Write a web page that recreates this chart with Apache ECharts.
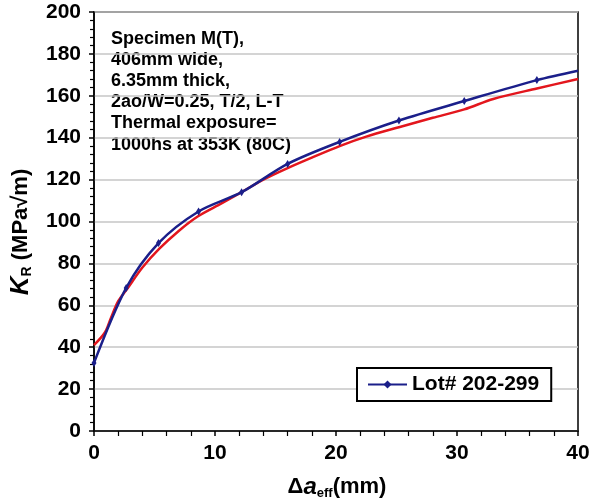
<!DOCTYPE html>
<html>
<head>
<meta charset="utf-8">
<script src="https://cdn.jsdelivr.net/npm/echarts@6/dist/echarts.min.js"></script>
<style>
  html, body { margin: 0; padding: 0; background: #fff; }
  #chart { width: 593px; height: 504px; }
</style>
</head>
<body>
<div id="chart"></div>
<script>
// crack extension (mm) / K_R (MPa√m)
const lotName = 'Lot# 202-299'
const lotX = [0, 2.66, 5.33, 8.64, 12.2, 16.0, 20.3, 25.2, 30.6, 36.6, 40]
const lotY = [32.5, 68.3, 89.7, 104.8, 114.0, 127.5, 138.0, 148.2, 157.5, 167.5, 172.0]

const refX = [0, 0.9, 1.4, 2.0, 2.7, 4.0, 5.4, 7.0, 8.6, 10.5, 12.2, 14.0, 16.0, 18.0, 20.3, 22.5, 25.2, 28.0, 30.6, 33.0, 36.6, 40]
const refY = [41, 47, 54, 62, 67.5, 78, 87, 95.5, 102.5, 108.5, 114, 120, 125.5, 130.5, 136, 140.5, 145, 149.5, 153.5, 158.5, 163.5, 168]

const xTicks = [0, 10, 20, 30, 40]
const yTicks = [0, 20, 40, 60, 80, 100, 120, 140, 160, 180, 200]

const noteLines = [
  'Specimen M(T),',
  '406mm wide,',
  '6.35mm thick,',
  '2ao/W=0.25, T/2, L-T',
  'Thermal exposure=',
  '1000hs at 353K (80C)'
]

const FONT = '"Liberation Sans", Arial, sans-serif'
const BLUE = '#1b1f8a'
const RED = '#e3161d'

const chart = echarts.init(document.getElementById('chart'))

const lotData = lotX.map((x, i) => {
  const last = i === lotX.length - 1
  return last ? { value: [x, lotY[i]], symbol: 'none' } : [x, lotY[i]]
})
const refData = refX.map((x, i) => [x, refY[i]])

chart.setOption({
  animation: false,
  backgroundColor: '#fff',
  textStyle: { fontFamily: FONT },
  grid: {
    left: 94, right: 15, top: 12, bottom: 73,
    show: true,
    borderColor: '#000',
    borderWidth: 1.5,
    backgroundColor: 'transparent'
  },
  legend: {
    data: [lotName],
    left: 357,
    top: 368,
    orient: 'horizontal',
    backgroundColor: '#fff',
    borderColor: '#000',
    borderWidth: 2,
    borderRadius: 0,
    padding: [6, 12, 6, 10],
    itemWidth: 39,
    itemHeight: 10,
    textStyle: { fontFamily: FONT, fontSize: 21, fontWeight: 'bold', color: '#000' }
  },
  xAxis: {
    type: 'value',
    min: xTicks[0],
    max: xTicks[xTicks.length - 1],
    interval: 10,
    axisLine: { show: true, onZero: false, lineStyle: { color: '#000', width: 1.5 } },
    axisTick: { show: true, inside: false, length: 5, lineStyle: { color: '#000', width: 1.5 } },
    minorTick: { show: true, splitNumber: 5, length: 5, lineStyle: { color: '#000', width: 1.2 } },
    splitLine: { show: false },
    axisLabel: {
      margin: 12, color: '#000', fontSize: 21, fontWeight: 'bold', fontFamily: FONT,
      formatter: v => xTicks.includes(v) ? String(v) : ''
    }
  },
  yAxis: {
    type: 'value',
    min: yTicks[0],
    max: yTicks[yTicks.length - 1],
    interval: 20,
    axisLine: { show: true, onZero: false, lineStyle: { color: '#000', width: 1.5 } },
    axisTick: { show: true, inside: false, length: 5, lineStyle: { color: '#000', width: 1.5 } },
    minorTick: { show: true, splitNumber: 5, length: 4, lineStyle: { color: '#000', width: 1.2 } },
    splitLine: { show: true, lineStyle: { color: '#c6c6c6', width: 1.5 } },
    axisLabel: {
      margin: 13, color: '#000', fontSize: 21, fontWeight: 'bold', fontFamily: FONT,
      formatter: v => yTicks.includes(v) ? String(v) : ''
    }
  },
  series: [
    {
      name: 'reference',
      type: 'line',
      data: refData,
      smooth: 0.3,
      showSymbol: false,
      lineStyle: { color: RED, width: 2.5 },
      itemStyle: { color: RED },
      z: 2
    },
    {
      name: lotName,
      type: 'line',
      data: lotData,
      smooth: 0.3,
      symbol: 'diamond',
      symbolSize: [5, 8],
      lineStyle: { color: BLUE, width: 2.5 },
      itemStyle: { color: BLUE },
      z: 3
    }
  ],
  graphic: [
    {
      type: 'text',
      left: 111,
      top: 28,
      style: {
        text: noteLines.join('\n'),
        font: 'bold 18px ' + FONT,
        lineHeight: 21.2,
        fill: '#000'
      }
    },
    {
      type: 'text',
      x: 21,
      y: 232,
      rotation: Math.PI / 2,
      style: {
        text: '{k|K}{s|R}{n| (MPa√m)}',
        align: 'center',
        verticalAlign: 'middle',
        rich: {
          k: { font: 'italic bold 26px ' + FONT, fill: '#000' },
          s: { font: 'bold 14px ' + FONT, fill: '#000', padding: [12, 0, 0, 0] },
          n: { font: 'bold 22px ' + FONT, fill: '#000' }
        }
      }
    },
    {
      type: 'text',
      x: 337,
      y: 487,
      style: {
        text: '{n|Δ}{a|a}{s|eff}{n|(mm)}',
        align: 'center',
        verticalAlign: 'middle',
        rich: {
          n: { font: 'bold 22px ' + FONT, fill: '#000' },
          a: { font: 'italic bold 24px ' + FONT, fill: '#000' },
          s: { font: 'bold 13px ' + FONT, fill: '#000', padding: [12, 0, 0, 0] }
        }
      }
    }
  ]
})

window.addEventListener('resize', () => {
  chart.resize()
})
</script>
</body>
</html>
